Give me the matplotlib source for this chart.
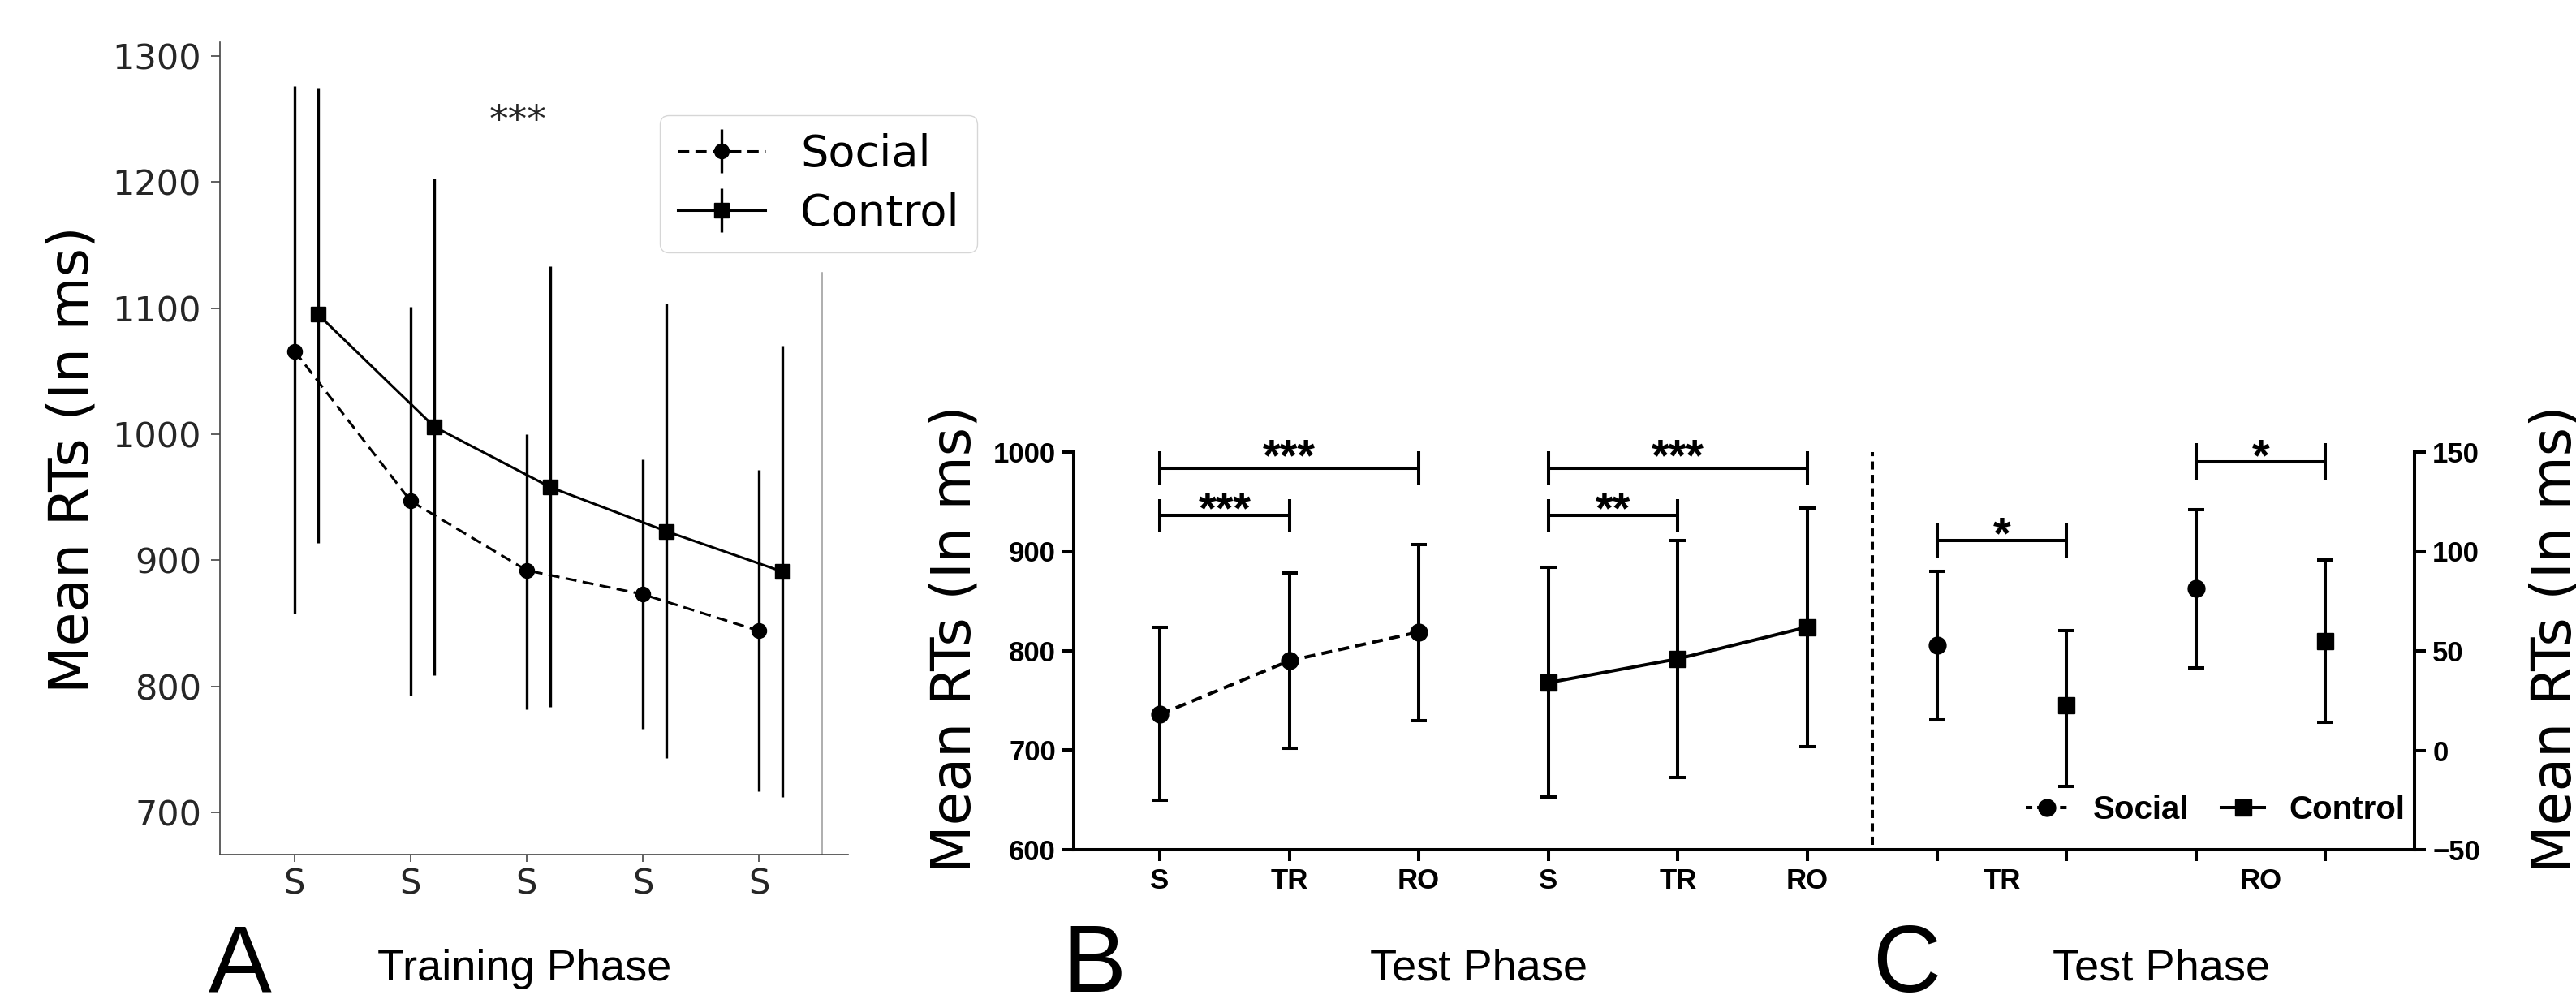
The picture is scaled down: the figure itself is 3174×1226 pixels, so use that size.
import matplotlib
matplotlib.use("Agg")
import matplotlib.pyplot as plt
from matplotlib.lines import Line2D
import numpy as np

W, H = 3174, 1226
plt.rcParams['font.family'] = ['DejaVu Sans']

# panel A : training phase
train_pos = np.array([0, 1, 2, 3, 4])
train_labels = ["S", "S", "S", "S", "S"]
social_train = np.array([1066, 947, 892, 873, 844])
social_train_lo = np.array([858, 793, 782, 766, 717])
social_train_hi = np.array([1276, 1101, 1000, 980, 972])
control_train = np.array([1095, 1006, 958, 923, 891])
control_train_lo = np.array([914, 809, 784, 743, 712])
control_train_hi = np.array([1274, 1203, 1133, 1104, 1070])

# panel B : test phase, raw RTs
test_labels = ["S", "TR", "RO"]
social_test = np.array([736, 790, 819])
social_test_lo = np.array([650, 702, 730])
social_test_hi = np.array([824, 878, 907])
control_test = np.array([768, 792, 824])
control_test_lo = np.array([653, 673, 704])
control_test_hi = np.array([884, 911, 944])

# panel C : differences (right axis)
diff_labels = ["TR", "RO"]
social_diff = np.array([52.7, 81.3])
social_diff_lo = np.array([15.3, 41.4])
social_diff_hi = np.array([89.8, 121.0])
control_diff = np.array([22.8, 54.8])
control_diff_lo = np.array([-18.0, 14.2])
control_diff_hi = np.array([60.2, 95.9])

# significance bars: x1, x2, bar height, cap half height, stars, star height
sig_test = [(0, 2, 984, 17, "***", 1008), (0, 1, 936, 17, "***", 955),
            (3, 5, 984, 17, "***", 1008), (3, 4, 936, 17, "**", 955)]
sig_diff = [(6, 7, 105.4, 9, "*", 114.8), (8, 9, 145.3, 9, "*", 154.0)]

fig = plt.figure(figsize=(W / 100, H / 100), dpi=100)
gray = '#262626'
arial = 'Liberation Sans'

# ---------------- panel A
axA = fig.add_axes([271 / W, 1 - 1053 / H, (1045 - 271) / W, (1053 - 52) / H])
axA.set_xlim(-0.643, 4.769)
axA.set_ylim(666.5, 1311)
off = 0.203
axA.errorbar(train_pos, social_train,
             yerr=[social_train - social_train_lo, social_train_hi - social_train],
             fmt='o', linestyle=(0, (4.5, 2.5)), color='k', lw=2.2, ms=13,
             elinewidth=2.4, capsize=0, label='Social')
axA.errorbar(train_pos + off, control_train,
             yerr=[control_train - control_train_lo, control_train_hi - control_train],
             fmt='s', linestyle='-', color='k', lw=2.2, ms=13,
             elinewidth=2.4, capsize=0, label='Control')
axA.set_xticks(train_pos, train_labels)
axA.set_yticks([700, 800, 900, 1000, 1100, 1200, 1300])
for s in ['top', 'right']:
    axA.spines[s].set_visible(False)
for s in ['left', 'bottom']:
    axA.spines[s].set_color('#444444')
    axA.spines[s].set_linewidth(1.2)
axA.tick_params(axis='y', length=8, width=1.2, color='#444444', labelsize=31,
                labelcolor=gray, pad=8.5)
axA.tick_params(axis='x', length=6.5, width=1.2, color='#444444', labelsize=30,
                labelcolor=gray, pad=5)
axA.plot([4.545, 4.545], [666.5, 1128], color='#999999', lw=1.1, clip_on=False)
axA.annotate("***", (1.92, 1258), xytext=(0, -20), textcoords='offset points',
             ha='center', va='baseline', fontsize=34, color=gray)
axA.legend(loc='upper left', bbox_to_anchor=(813 / W, 1 - 142 / H),
           bbox_transform=fig.transFigure, borderaxespad=0, fontsize=39,
           labelspacing=0.4, edgecolor='#cccccc')

# ---------------- panels B and C
axB = fig.add_axes([1323 / W, 1 - 1047 / H, (2975 - 1323) / W, 490 / H])
axB.set_xlim(-0.664, 9.687)
axB.set_ylim(600, 1000)
axC = axB.twinx()
axC.set_ylim(-50, 150)

eb = dict(color='k', lw=2.9, ms=15, elinewidth=2.9, capsize=7.2, capthick=2.9)
axB.errorbar([0, 1, 2], social_test,
             yerr=[social_test - social_test_lo, social_test_hi - social_test],
             fmt='o', linestyle=(0, (3.3, 2.0)), **eb)
axB.errorbar([3, 4, 5], control_test,
             yerr=[control_test - control_test_lo, control_test_hi - control_test],
             fmt='s', linestyle='-', **eb)
axC.errorbar([6, 8], social_diff,
             yerr=[social_diff - social_diff_lo, social_diff_hi - social_diff],
             fmt='o', linestyle='none', **eb)
axC.errorbar([7, 9], control_diff,
             yerr=[control_diff - control_diff_lo, control_diff_hi - control_diff],
             fmt='s', linestyle='none', **eb)

axB.plot([5.5, 5.5], [605, 1000], color='k', lw=2.9, linestyle=(0, (2.5, 1.6)))


def sig_bar(ax, x1, x2, y, half, text, ty):
    kw = dict(color='k', lw=2.9, clip_on=False, solid_capstyle='butt')
    ax.plot([x1, x2], [y, y], **kw)
    ax.plot([x1, x1], [y - half, y + half], **kw)
    ax.plot([x2, x2], [y - half, y + half], **kw)
    ax.annotate(text, ((x1 + x2) / 2, ty), xytext=(0, -23), textcoords='offset points',
                ha='center', va='baseline', fontsize=40, fontweight='bold',
                family=arial, annotation_clip=False)


for b in sig_test:
    sig_bar(axB, *b)
for b in sig_diff:
    sig_bar(axC, *b)

axB.set_xticks(range(10), test_labels + test_labels + ['', '', '', ''])
axB.set_xticks([6.5, 8.5], diff_labels, minor=True)
axB.set_yticks([600, 700, 800, 900, 1000])
axC.set_yticks([-50, 0, 50, 100, 150])
for s in ['top', 'right']:
    axB.spines[s].set_visible(False)
for s in ['top', 'left', 'bottom']:
    axC.spines[s].set_visible(False)
for s in ['left', 'bottom']:
    axB.spines[s].set_linewidth(2.9)
axC.spines['right'].set_linewidth(2.9)
axB.tick_params(axis='both', which='major', length=10, width=2.9, labelsize=25, pad=6)
axB.tick_params(axis='x', which='minor', length=0, labelsize=25, pad=16)
axC.tick_params(axis='y', length=10, width=2.9, labelsize=25, pad=6)
for t in (axB.get_xticklabels() + axB.get_xticklabels(minor=True)
          + axB.get_yticklabels() + axC.get_yticklabels()):
    t.set_fontfamily(arial)
    t.set_fontweight('bold')

h_soc = Line2D([], [], color='k', lw=2.9, linestyle=(0, (2.0, 1.5)), marker='o', ms=15)
h_con = Line2D([], [], color='k', lw=2.9, linestyle='-', marker='s', ms=15)
axC.legend([h_soc, h_con], ['Social', 'Control'], loc='center right',
           bbox_to_anchor=(2963 / W, 1 - 998 / H), bbox_transform=fig.transFigure,
           ncol=2, frameon=False, borderpad=0, borderaxespad=0, handlelength=1.3,
           handletextpad=0.75, columnspacing=1.0,
           prop={'family': arial, 'weight': 'bold', 'size': 29})

# ---------------- labels
lab = dict(rotation=90, rotation_mode='anchor', ha='center', va='baseline', fontsize=49)
fig.text(109 / W, 1 - 566 / H, "Mean RTs (In ms)", **lab)
fig.text(1195 / W, 1 - 787 / H, "Mean RTs (In ms)", **lab)
fig.text(3167 / W, 1 - 787 / H, "Mean RTs (In ms)", **lab)

for x, letter in [(296, "A"), (1348, "B"), (2349, "C")]:
    fig.text(x / W, 1 - 1222 / H, letter, ha='center', va='baseline',
             fontsize=84, family=arial)
for x, txt in [(646, "Training Phase"), (1822, "Test Phase"), (2663, "Test Phase")]:
    fig.text(x / W, 1 - 1208 / H, txt, ha='center', va='baseline',
             fontsize=39, family=arial)

fig.savefig("out.png", dpi=100)
